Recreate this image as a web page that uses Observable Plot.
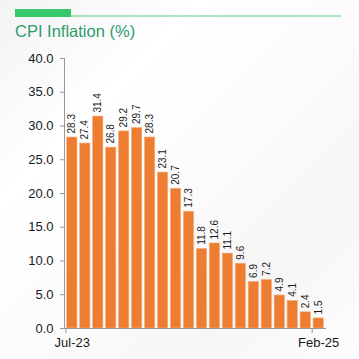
<!DOCTYPE html>
<html><head><meta charset="utf-8">
<script src="https://cdn.jsdelivr.net/npm/d3@7"></script>
<script src="https://cdn.jsdelivr.net/npm/@observablehq/plot@0.6"></script>
<style>
body{margin:0;background:#fff;}
#wrap{position:relative;width:359px;height:359px;overflow:hidden;
 background:linear-gradient(135deg,#f3f3f3 0%,#ffffff 28%,#fbfbfb 55%,#f6f6f6 75%,#fdfdfd 100%);
 font-family:"Liberation Sans",Arial,sans-serif;}
.accent{position:absolute;left:15px;top:9px;width:56px;height:8px;background:#36c96a;}
.line{position:absolute;left:71px;top:15px;width:270px;height:2px;background:#a6e4bf;}
.title{position:absolute;left:15px;top:22px;font-size:16.5px;color:#2f9c6d;white-space:nowrap;}
#chart{position:absolute;left:0;top:0;}
</style></head>
<body><div id="wrap">
<div class="accent"></div><div class="line"></div>
<div class="title">CPI Inflation (%)</div>
<div id="chart"></div>
</div>
<script>
const months = ["Jul-23","Aug-23","Sep-23","Oct-23","Nov-23","Dec-23","Jan-24","Feb-24","Mar-24","Apr-24","May-24","Jun-24","Jul-24","Aug-24","Sep-24","Oct-24","Nov-24","Dec-24","Jan-25","Feb-25"];
const cpi = [28.3,27.4,31.4,26.8,29.2,29.7,28.3,23.1,20.7,17.3,11.8,12.6,11.1,9.6,6.9,7.2,4.9,4.1,2.4,1.5];
const yTicks = [0,5,10,15,20,25,30,35,40];
const xLabels = ["Jul-23","Feb-25"];

const data = months.map((m,i)=>({month:m,value:cpi[i]}));
const chart = Plot.plot({
  width:359,height:359,
  marginTop:58,marginBottom:31,marginLeft:64,marginRight:33,
  style:{background:"transparent",fontFamily:"'Liberation Sans',Arial,sans-serif",fontSize:"13px",color:"#1a1a1a"},
  x:{domain:months,padding:0.2,round:false,axis:null,label:null},
  y:{domain:[0,40],axis:null,label:null},
  marks:[
    Plot.barY(data,{x:"month",y:"value",fill:"#ED7D31",stroke:"#f6b58a",strokeWidth:0.6}),
    Plot.text(data,{x:"month",y:"value",text:d=>d.value.toFixed(1),rotate:-90,textAnchor:"start",dy:-4,fontSize:10,fill:"#1a1a1a"}),
    Plot.axisY(yTicks,{tickFormat:d=>d.toFixed(1),tickSize:4,tickPadding:7,stroke:"#999",fill:"#1a1a1a",fontSize:13,label:null}),
    Plot.axisX(xLabels,{tickSize:0,tickPadding:9,fill:"#1a1a1a",fontSize:13,label:null}),
    Plot.axisX(xLabels,{text:null,tickSize:5,dx:-6.5,stroke:"#999",label:null}),
    Plot.ruleY([0],{stroke:"#999"}),
    Plot.frame({anchor:"left",stroke:"#999"})
  ]
});
document.getElementById("chart").appendChild(chart);
</script>
</body></html>
